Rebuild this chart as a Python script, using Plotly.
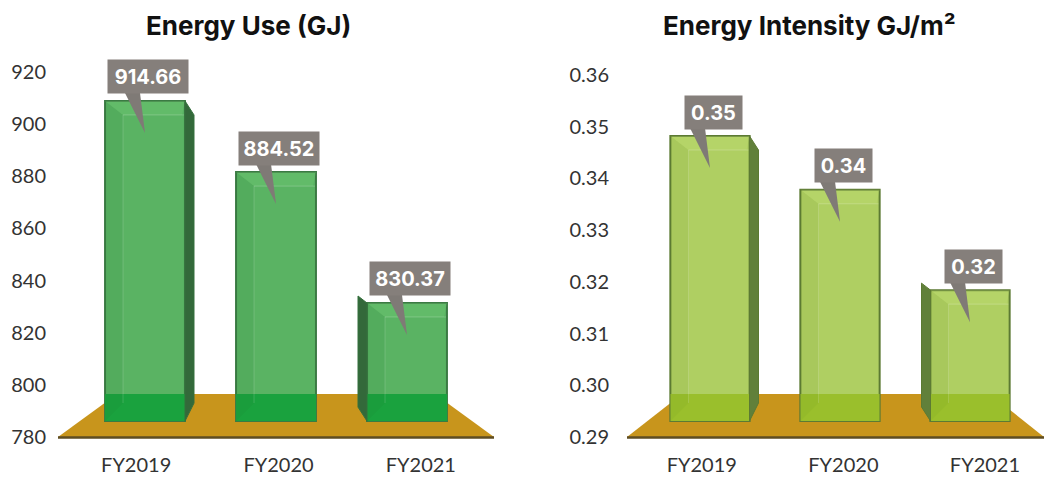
import plotly.graph_objects as go

W, H = 1044, 477
years = ["FY2019", "FY2020", "FY2021"]

use_labels = ["914.66", "884.52", "830.37"]
use_heights = [908.9, 881.6, 831.4]
use_ticks = [780, 800, 820, 840, 860, 880, 900, 920]

intensity_labels = ["0.35", "0.34", "0.32"]
intensity_heights = [0.3482, 0.3378, 0.3184]
intensity_ticks = [0.29, 0.30, 0.31, 0.32, 0.33, 0.34, 0.35, 0.36]

USE_BASE, INT_BASE = 786.1, 0.2931
USE_SCALE = 365 / 140
INT_SCALE = 362 / 0.07


def px(x):
    return x / W


def py(y):
    return 1 - y / H


def hexa(c, a):
    return f"rgba({c[0]},{c[1]},{c[2]},{a})"


shapes, annotations = [], []


def pixel_path(xref, yref, i, yanchor, path, fill=None, line=None, lw=1, layer="above"):
    shapes.append(dict(type="path", xref=xref, yref=yref, xsizemode="pixel", ysizemode="pixel",
                       xanchor=i, yanchor=yanchor, path=path,
                       fillcolor=fill if fill else "rgba(0,0,0,0)",
                       line=dict(color=line if line else "rgba(0,0,0,0)", width=lw if line else 0),
                       layer=layer))


def floor(pts, x0, x1):
    d = "M " + " L ".join(f"{px(a)} {py(b)}" for a, b in pts) + " Z"
    shapes.append(dict(type="path", xref="paper", yref="paper", path=d, fillcolor="#C8951C",
                       line=dict(width=0), layer="below"))
    shapes.append(dict(type="line", xref="paper", yref="paper", x0=px(x0), x1=px(x1), y0=py(437.5), y1=py(437.5),
                       line=dict(color="#5E4D22", width=2.5), layer="below"))


def dress(xref, yref, heights, labels, base, scale, hw, box_w, side, edge, side_c, bottom_c, top_light, strip):
    for i, v in enumerate(heights):
        h = (v - base) * scale
        # overlap with the floor
        pixel_path(xref, yref, i, base, f"M {-hw} 0 L {hw} 0 L {hw} 27 L {-hw} 27 Z", fill=bottom_c)
        # left and right strips of the glass box, top face
        pixel_path(xref, yref, i, base, f"M {-hw} 0 L {-hw+18} 18 L {-hw+18} {h-14} L {-hw} {h} Z", fill=strip)
        pixel_path(xref, yref, i, base, f"M {-hw} {h} L {hw} {h} L {hw-3} {h-14} L {-hw+18} {h-14} Z", fill=top_light)
        pixel_path(xref, yref, i, base, f"M {-hw+18} {h-14} L {hw-1} {h-14}", line=hexa((255, 255, 255), 0.2), lw=1)
        pixel_path(xref, yref, i, base, f"M {-hw+18} {h-14} L {-hw+18} 18", line=hexa((255, 255, 255), 0.15), lw=1)
        # side face
        if side[i] > 0:
            pixel_path(xref, yref, i, base, f"M {hw} {h} L {hw+9} {h-14} L {hw+9} 18 L {hw} 0 Z", fill=side_c, line=edge, lw=1)
        elif side[i] < 0:
            pixel_path(xref, yref, i, base, f"M {-hw} {h} L {-hw-9} {h+7} L {-hw-9} 14 L {-hw} 0 Z", fill=side_c, line=edge, lw=1)
        # callout tail
        pixel_path(xref, yref, i, base,
                   f"M {-20} {h+8} L {-5} {h+8} L 0 {h-32} Z", fill="#7F7A76")
        annotations.append(dict(x=i, y=v, xref=xref, yref=yref, text=f"<b>{labels[i]}</b>", showarrow=False,
                                xshift=3, yshift=24, width=box_w, height=33, bgcolor="#857F7B", borderpad=0,
                                font=dict(family="Inter", size=20, color="white"), align="center", valign="middle"))


floor([(58, 437), (117, 394), (435, 394), (494, 437)], 58, 494)
floor([(627, 437), (682, 394), (990, 394), (1044, 437)], 627, 1044)

dress("x3", "y", use_heights, use_labels, USE_BASE, USE_SCALE, 40, 80, [1, 0, -1], "#35703D", "#33693A", "#1AA23E",
      "rgba(120,205,120,0.3)", "rgba(30,120,50,0.1)")
dress("x4", "y2", intensity_heights, intensity_labels, INT_BASE, INT_SCALE, 39.5, 57, [1, 0, -1], "#5C7A33", "#61803A",
      "#9ABF2C", "rgba(195,225,120,0.3)", "rgba(90,130,30,0.08)")

fig = go.Figure()

fig.add_trace(go.Bar(x=years, y=[v - USE_BASE for v in use_heights], base=USE_BASE, xaxis="x3", yaxis="y",
                     marker=dict(color="#5AB363", line=dict(color="#3B7A43", width=2)), hoverinfo="skip"))
fig.add_trace(go.Bar(x=years, y=[v - INT_BASE for v in intensity_heights], base=INT_BASE, xaxis="x4", yaxis="y2",
                     marker=dict(color="#AFCF62", line=dict(color="#5C7A33", width=2)), hoverinfo="skip"))
# carriers for the category tick labels
fig.add_trace(go.Scatter(x=years, y=[use_ticks[0]] * 3, xaxis="x", yaxis="y", mode="markers", marker=dict(opacity=0), hoverinfo="skip"))
fig.add_trace(go.Scatter(x=years, y=[intensity_ticks[0]] * 3, xaxis="x2", yaxis="y2", mode="markers", marker=dict(opacity=0), hoverinfo="skip"))

tick_font = dict(family="Lato", size=20, color="#333333")
y_common = dict(showgrid=False, zeroline=False, showline=False, ticks="",
                tickfont=tick_font, anchor="free", automargin=False)
x_common = dict(showgrid=False, zeroline=False, showline=False, ticks="", tickfont=tick_font, type="category",
                anchor="y", ticklabelstandoff=14, automargin=False)
hidden = dict(type="category", visible=False, showgrid=False, zeroline=False)

annotations.append(dict(x=px(248), y=py(25), xref="paper", yref="paper", text="<b>Energy Use (GJ)</b>", showarrow=False,
                        xanchor="center", yanchor="middle", font=dict(family="Inter", size=26, color="#111111")))
annotations.append(dict(x=px(809), y=py(25), xref="paper", yref="paper", text="<b>Energy Intensity GJ/m²</b>", showarrow=False,
                        xanchor="center", yanchor="middle", font=dict(family="Inter", size=26, color="#111111")))

fig.update_layout(
    width=W, height=H, margin=dict(l=0, r=0, t=0, b=0), autosize=False,
    paper_bgcolor="white", plot_bgcolor="rgba(0,0,0,0)", showlegend=False, bargap=0.39,
    xaxis=dict(domain=[px(65), px(492)], range=[-0.5, 2.5], **x_common),
    xaxis2=dict(domain=[px(631), 1], range=[-0.5, 2.417], **{**x_common, "anchor": "y2"}),
    xaxis3=dict(domain=[px(79.5), px(472.5)], range=[-0.5, 2.5], anchor="y", **hidden),
    xaxis4=dict(domain=[px(645), px(1035)], range=[-0.5, 2.5], anchor="y2", **hidden),
    yaxis=dict(domain=[py(437), py(72)], range=[780, 920], tickvals=use_ticks, position=px(46), **y_common),
    yaxis2=dict(domain=[py(437), py(75)], range=[0.29, 0.36], tickvals=intensity_ticks, tickformat=".2f", position=px(609), **y_common),
    shapes=shapes, annotations=annotations,
)
fig.write_html("out.html", config=dict(displayModeBar=False),
               post_script="document.body.style.margin='0';")
